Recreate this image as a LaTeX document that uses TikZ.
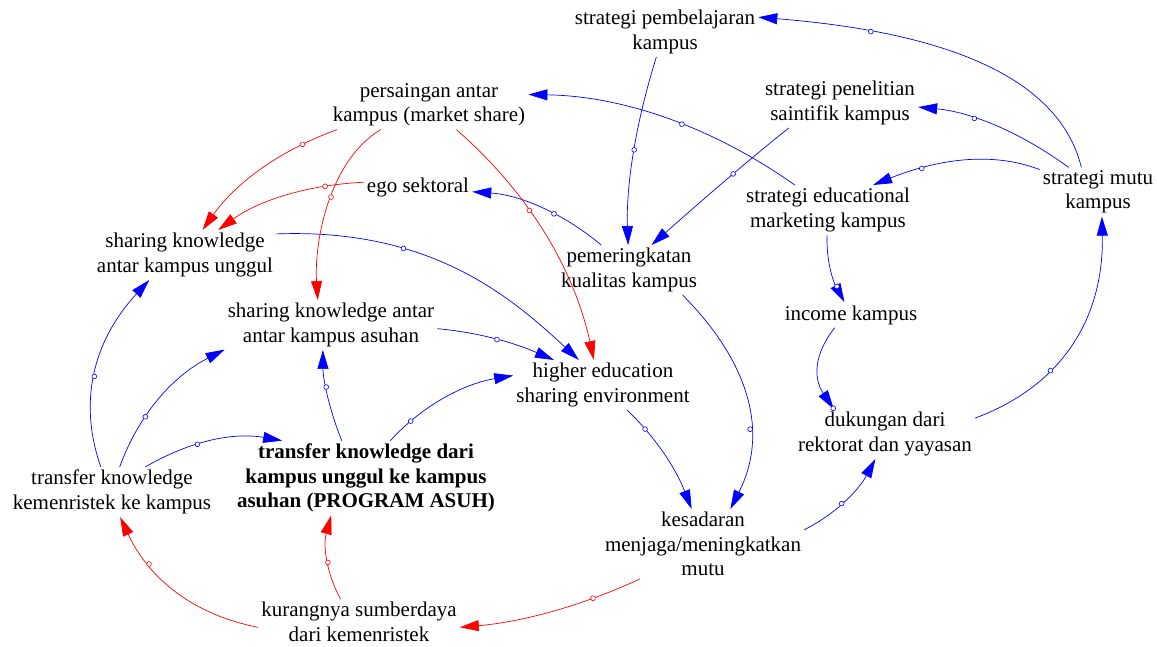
\documentclass[tikz,border=0pt]{standalone}
\usepackage{fontspec}
\setmainfont{Liberation Serif}
\usetikzlibrary{arrows.meta,decorations.markings}
\begin{document}
\begin{tikzpicture}[x=1pt,y=-1pt,
  v/.style={align=center, font=\fontsize{21}{24.5}\selectfont, inner sep=3pt},
  vb/.style={align=center, font=\fontsize{21}{24.5}\selectfont\bfseries, inner sep=3pt},
  lk/.style={line width=0.7pt, -{Triangle[length=19pt,width=11pt]}},
  bl/.style={lk, blue},
  rd/.style={lk, red},
  mk/.style={postaction={decorate}, decoration={markings, mark=at position #1 with {\draw[line width=0.6pt, fill=white] (0,0) circle (2.4pt);}}}
]
\useasboundingbox (0,0) rectangle (1157,647);
% nodes
\node[v] (pemb) at (665,32) {strategi pembelajaran\\kampus};
\node[v] (pers) at (429,105) {persaingan antar\\kampus (market share)};
\node[v] (pen) at (840,103) {strategi penelitian\\saintifik kampus};
\node[v] (ego) at (418,187) {ego sektoral};
\node[v] (mutu) at (1098,192) {strategi mutu\\kampus};
\node[v] (edu) at (828,210) {strategi educational\\marketing kampus};
\node[v] (sku) at (185,255) {sharing knowledge\\antar kampus unggul};
\node[v] (pem) at (629,270) {pemeringkatan\\kualitas kampus};
\node[v] (inc) at (851,315) {income kampus};
\node[v] (ska) at (331,325) {sharing knowledge antar\\antar kampus asuhan};
\node[v] (hes) at (603,385) {higher education\\sharing environment};
\node[v] (duk) at (885,434) {dukungan dari\\rektorat dan yayasan};
\node[v] (tkk) at (112,492) {transfer knowledge\\kemenristek ke kampus};
\node[vb] (tkd) at (366,478) {transfer knowledge dari\\kampus unggul ke kampus\\asuhan (PROGRAM ASUH)};
\node[v] (kes) at (703,544) {kesadaran\\menjaga/meningkatkan\\mutu};
\node[v] (kur) at (359,622) {kurangnya sumberdaya\\dari kemenristek};
% blue links
\draw[bl, mk=0.7] (mutu.124) .. controls (1060,81) and (955,33) .. (pemb.9);
\draw[bl, mk=0.65] (mutu.140) .. controls (1020,132) and (971,112) .. (pen.-3);
\draw[bl, mk=0.7] (mutu.159) .. controls (989,150) and (933,161) .. (edu.29);
\draw[bl, mk=0.5] (pemb.251) .. controls (635,125) and (626,187) .. (pem.92);
\draw[bl, mk=0.4] (pen.206) .. controls (746,162) and (699,203) .. (pem.48);
\draw[bl, mk=0.45] (edu.143) .. controls (711,126) and (622,96) .. (pers.6);
\draw[bl, mk=0.4] (pem.138) .. controls (563,213) and (520,195) .. (ego.-5);
\draw[bl, mk=0.75] (edu.268) .. controls (826,260) and (833,281) .. (inc.117);
\draw[bl, mk=0.99] (inc.218) .. controls (814,354) and (813,378) .. (duk.154);
\draw[bl, mk=0.35] (duk.10) .. controls (1064,385) and (1104,316) .. (mutu.279);
\draw[bl, mk=0.45] (kes.8) .. controls (832,516) and (857,493) .. (duk.249);
\draw[bl, mk=0.65] (pem.335) .. controls (752,365) and (768,435) .. (kes.52);
\draw[bl, mk=0.22] (hes.314) .. controls (657,439) and (676,469) .. (kes.108);
\draw[bl, mk=0.38] (sku.13) .. controls (430,228) and (510,296) .. (hes.134);
\draw[bl, mk=0.5] (ska.-2) .. controls (474,332) and (510,341) .. (hes.153);
\draw[bl, mk=0.6] (tkd.123) .. controls (329,409) and (323,379) .. (ska.252);
\draw[bl, mk=0.2] (tkd.57) .. controls (422,406) and (463,384) .. (hes.174);
\draw[bl, mk=0.45] (tkk.114) .. controls (78,402) and (93,341) .. (sku.215);
\draw[bl, mk=0.35] (tkk.73) .. controls (139,414) and (173,376) .. (ska.193);
\draw[bl, mk=0.4] (tkk.37) .. controls (190,441) and (233,432) .. (tkd.156);
% red links
\draw[rd, mk=0.22] (pers.195) .. controls (278,151) and (235,184) .. (sku.55);
\draw[rd, mk=0.25] (ego.175) .. controls (306,185) and (258,201) .. (sku.37);
\draw[rd, mk=0.45] (pers.207) .. controls (330,160) and (314,240) .. (ska.118);
\draw[rd, mk=0.4] (pers.318) .. controls (529,193) and (574,269) .. (hes.110);
\draw[rd, mk=0.27] (kes.209) .. controls (579,607) and (521,622) .. (kur.-3);
\draw[rd, mk=0.45] (kur.129) .. controls (326,572) and (323,545) .. (tkd.227);
\draw[rd, mk=0.7] (kur.183) .. controls (194,615) and (149,579) .. (tkk.288);
\end{tikzpicture}
\end{document}
